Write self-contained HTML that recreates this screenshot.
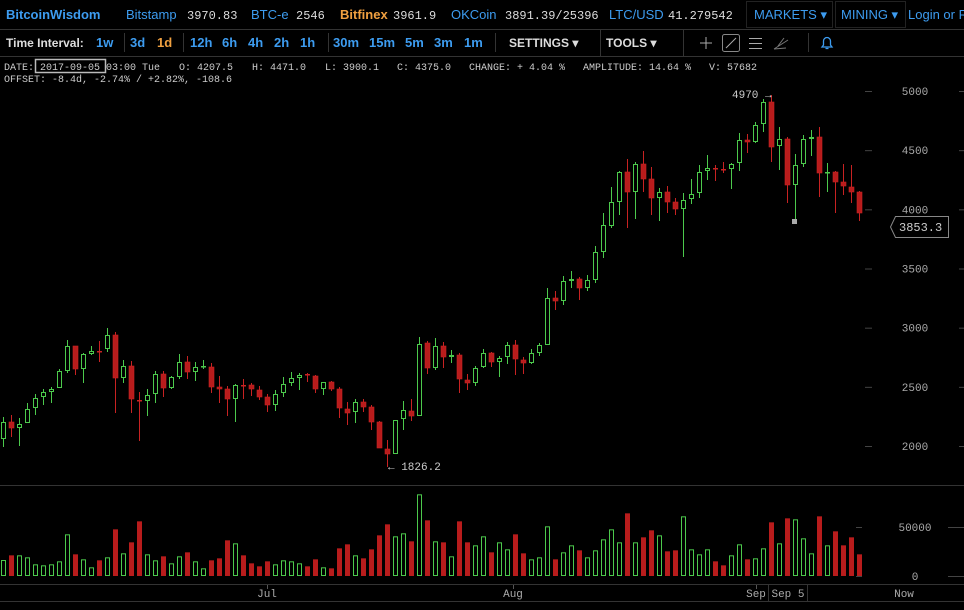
<!DOCTYPE html>
<html><head><meta charset="utf-8"><style>
body{margin:0;background:#000;width:964px;height:610px;overflow:hidden;font-family:"Liberation Sans",sans-serif}
svg{display:block}
.h{font-family:"Liberation Sans",sans-serif;font-size:13px;fill:#3d9cf0}
.m{font-family:"Liberation Mono",monospace;font-size:10px;fill:#ccc}
.v{font-family:"Liberation Mono",monospace;font-size:12px;fill:#ddd}
.b{font-weight:bold}
</style></head><body>
<svg id="s" width="964" height="610" xmlns="http://www.w3.org/2000/svg">
<rect width="964" height="610" fill="#000"/>
<line x1="0" y1="29.5" x2="964" y2="29.5" stroke="#333"/>
<line x1="0" y1="56.5" x2="964" y2="56.5" stroke="#333"/>
<text x="6" y="19" class="h b" font-size="15">BitcoinWisdom</text>
<text x="126" y="19" class="h">Bitstamp</text><text x="187" y="19" class="v">3970.83</text>
<text x="251" y="19" class="h">BTC-e</text><text x="296" y="19" class="v">2546</text>
<text x="340" y="19" class="h b" style="fill:#f0a040">Bitfinex</text><text x="393" y="19" class="v">3961.9</text>
<text x="451" y="19" class="h">OKCoin</text><text x="505" y="19" class="v">3891.39/25396</text>
<text x="609" y="19" class="h">LTC/USD</text><text x="668" y="19" class="v">41.279542</text>
<rect x="746.5" y="1.5" width="86" height="26" fill="none" stroke="#222"/>
<text x="754" y="19" class="h">MARKETS ▾</text>
<rect x="835.5" y="1.5" width="70" height="26" fill="none" stroke="#222"/>
<text x="841" y="19" class="h">MINING ▾</text>
<text x="908" y="19" class="h">Login or R</text>
<text x="6" y="47" class="h b" style="fill:#ddd;font-size:12px">Time Interval:</text>
<g class="h b" font-size="12">
<text x="96" y="47" class="h b">1w</text><text x="130" y="47" class="h b">3d</text><text x="157" y="47" class="h b" style="fill:#f0a040">1d</text>
<text x="190" y="47" class="h b">12h</text><text x="222" y="47" class="h b">6h</text><text x="248" y="47" class="h b">4h</text><text x="274" y="47" class="h b">2h</text><text x="300" y="47" class="h b">1h</text>
<text x="333" y="47" class="h b">30m</text><text x="369" y="47" class="h b">15m</text><text x="405" y="47" class="h b">5m</text><text x="434" y="47" class="h b">3m</text><text x="464" y="47" class="h b">1m</text>
<text x="509" y="47" class="h b" style="fill:#ddd;font-size:12px">SETTINGS ▾</text>
<text x="606" y="47" class="h b" style="fill:#ddd;font-size:12px">TOOLS ▾</text>
</g>
<g stroke="#333"><line x1="124.5" y1="33" x2="124.5" y2="52"/><line x1="183.5" y1="33" x2="183.5" y2="52"/><line x1="328.5" y1="33" x2="328.5" y2="52"/><line x1="495.5" y1="33" x2="495.5" y2="52"/><line x1="600.5" y1="30" x2="600.5" y2="56"/><line x1="683.5" y1="30" x2="683.5" y2="56"/><line x1="808.5" y1="33" x2="808.5" y2="52"/></g>
<g stroke="#aaa" fill="none"><line x1="700" y1="43" x2="712" y2="43"/><line x1="706" y1="37" x2="706" y2="49"/>
<rect x="722.5" y="34.5" width="17" height="17" rx="2" stroke="#888"/><line x1="726" y1="48" x2="736" y2="38"/>
<line x1="749" y1="38.5" x2="762" y2="38.5"/><line x1="749" y1="43.5" x2="762" y2="43.5"/><line x1="749" y1="48.5" x2="762" y2="48.5"/>
<path d="M774 49 L788 40 M774 49 L786 48 M778 46 L784 38" stroke="#777"/></g>
<path d="M822 47 h10 l-1.5-2 v-4 a3.5 3.5 0 0 0 -7 0 v4 z M825.5 48.5 h3" stroke="#3d9cf0" fill="none" stroke-width="1.3"/>
<text x="4" y="70" class="m">DATE:</text>
<rect x="35.5" y="59.5" width="70" height="13" fill="none" stroke="#bbb" stroke-width="1.5"/>
<text x="40" y="70" class="m">2017-09-05</text>
<text x="106" y="70" class="m">03:00 Tue</text>
<text x="179" y="70" class="m">O: 4207.5</text>
<text x="252" y="70" class="m">H: 4471.0</text>
<text x="325" y="70" class="m">L: 3900.1</text>
<text x="397" y="70" class="m">C: 4375.0</text>
<text x="469" y="70" class="m">CHANGE: + 4.04 %</text>
<text x="583" y="70" class="m">AMPLITUDE: 14.64 %</text>
<text x="709" y="70" class="m">V: 57682</text>
<text x="4" y="82" class="m">OFFSET: -8.4d, -2.74% / +2.82%, -108.6</text>
<line x1="0" y1="485.5" x2="964" y2="485.5" stroke="#333"/>
<line x1="0" y1="584.5" x2="964" y2="584.5" stroke="#333"/>
<line x1="0" y1="601.5" x2="964" y2="601.5" stroke="#333"/>
<line x1="768.5" y1="585" x2="768.5" y2="601" stroke="#333"/><line x1="807.5" y1="585" x2="807.5" y2="601" stroke="#333"/>
<g class="m" text-anchor="middle" style="fill:#aaa;font-size:11px">
<text x="267" y="597">Jul</text><text x="513" y="597">Aug</text><text x="756" y="597">Sep</text><text x="788" y="597">Sep 5</text><text x="904" y="597">Now</text>
<text x="915" y="531">50000</text><text x="915" y="580">0</text>
</g>
<line x1="267.5" y1="585" x2="267.5" y2="589" stroke="#555"/><line x1="513.5" y1="585" x2="513.5" y2="589" stroke="#555"/><line x1="756.5" y1="585" x2="756.5" y2="589" stroke="#555"/>
<g stroke="#444"><line x1="856" y1="527.5" x2="862" y2="527.5"/><line x1="948" y1="527.5" x2="964" y2="527.5"/><line x1="856" y1="576.5" x2="862" y2="576.5"/><line x1="948" y1="576.5" x2="964" y2="576.5"/></g>
<g id="ax"></g>
<g id="c"></g>
<text x="732" y="98" class="m" style="fill:#ccc;font-size:11px">4970 →</text>
<text x="388" y="470" class="m" style="fill:#ccc;font-size:11px">← 1826.2</text>
<rect x="792" y="219" width="5" height="5" fill="#aaa"/>
<path d="M895.5 216.5 H948.5 V237.5 H895.5 L890.5 227 Z" fill="#000" stroke="#888"/>
<text x="899" y="231" class="m" style="fill:#ccc;font-size:12px">3853.3</text>
</svg>
<script>
var C=[
[422,439,417,447,'g'],[422,428,415,437,'r'],[424,428,418,446,'g'],[409,423,403,423,'g'],[398,408,394,415,'g'],[392,397,389,405,'g'],[389,392,387,403,'g'],[371,388,369,388,'g'],[346,371,340,373,'g'],[346,369,346,375,'r'],
[354,369,353,383,'g'],[351,354,346,355,'g'],[351,352,341,362,'r'],[335,349,328,352,'g'],[335,378,332,413,'r'],[366,378,360,383,'g'],[366,399,361,413,'r'],[400,401,392,441,'r'],[395,401,389,416,'g'],[374,394,371,403,'g'],
[374,388,371,397,'r'],[377,388,376,389,'g'],[362,377,354,379,'g'],[362,372,356,379,'r'],[367,372,362,381,'g'],[366,367,360,369,'g'],[367,387,363,393,'r'],[387,389,376,403,'r'],[389,399,386,416,'r'],[385,399,384,422,'g'],
[385,386,379,399,'r'],[385,389,383,396,'r'],[390,397,386,400,'r'],[397,405,394,412,'r'],[394,405,390,411,'g'],[384,393,377,397,'g'],[378,383,372,386,'g'],[375,378,373,390,'g'],[374,375,373,382,'r'],[376,389,375,393,'r'],
[382,389,382,395,'g'],[382,389,381,391,'r'],[389,408,387,418,'r'],[409,413,402,425,'r'],[402,412,399,423,'g'],[402,407,399,412,'r'],[407,422,405,430,'r'],[422,448,421,448,'r'],[449,454,440,467,'r'],[420,454,420,454,'g'],
[410,419,401,430,'g'],[411,416,399,421,'r'],[344,416,337,416,'g'],[343,368,341,374,'r'],[346,368,338,370,'g'],[346,357,342,368,'r'],[355,357,350,363,'g'],[355,379,353,393,'r'],[380,383,374,390,'r'],[368,383,366,386,'g'],
[353,367,349,368,'g'],[353,362,352,367,'r'],[358,362,356,377,'g'],[345,357,342,364,'g'],[345,359,340,375,'r'],[360,363,357,374,'r'],[353,363,349,364,'g'],[345,353,343,356,'g'],[298,345,288,345,'g'],[298,301,291,310,'r'],
[281,301,276,305,'g'],[279,281,271,288,'g'],[279,288,277,300,'r'],[280,288,275,291,'g'],[252,280,246,283,'g'],[225,252,213,258,'g'],[202,226,187,228,'g'],[172,202,171,215,'g'],[172,192,159,228,'r'],[164,192,162,219,'g'],
[164,179,151,192,'r'],[179,198,167,215,'r'],[192,198,188,221,'g'],[192,202,186,213,'r'],[202,209,198,215,'r'],[200,209,193,257,'g'],[194,199,179,204,'g'],[172,193,165,198,'g'],[168,171,155,180,'g'],[168,169,165,181,'r'],
[169,170,162,173,'r'],[164,169,163,189,'g'],[140,163,133,171,'g'],[140,142,134,153,'r'],[125,142,122,143,'g'],[102,124,99,132,'g'],[102,147,95,162,'r'],[139,146,127,170,'g'],[139,185,137,203,'r'],[165,185,154,222,'g'],
[139,164,135,167,'g'],[137,139,130,156,'g'],[137,173,127,197,'r'],[172,173,163,192,'g'],[172,182,171,213,'r'],[182,186,164,195,'r'],[187,192,165,203,'r'],[192,213,191,221,'r']];
var V=[240,226,226,232,253,256,253,244,163,223,238,262,241,232,148,220,187,124,223,241,229,250,229,217,244,265,241,235,181,190,226,250,259,244,253,241,244,250,259,238,262,265,205,193,226,235,208,166,133,169,160,184,43,121,
184,187,229,124,187,196,169,217,187,208,163,220,238,232,139,238,217,196,211,232,211,178,148,187,100,187,172,151,166,214,211,109,208,223,208,244,256,226,193,238,235,205,127,190,115,118,175,220,109,196,154,196,172,223];
var s='',G='#4cc94c',R='#b81c1c',RS='#c82222';
for(var i=0;i<C.length;i++){var c=C[i],x=3.5+i*8,col=c[4]=='g'?G:RS;
s+='<line x1="'+x+'" y1="'+c[2]+'" x2="'+x+'" y2="'+c[3]+'" stroke="'+col+'"/>';
var h=c[1]-c[0];
if(h<2){s+='<rect x="'+(x-2.5)+'" y="'+c[0]+'" width="5" height="1.5" fill="'+col+'"/>';}
else if(c[4]=='g'){s+='<rect x="'+(x-2)+'" y="'+(c[0]+.5)+'" width="4" height="'+(h-1)+'" fill="#000" stroke="'+G+'"/>';}
else{s+='<rect x="'+(x-2.5)+'" y="'+c[0]+'" width="5" height="'+h+'" fill="'+R+'" stroke="'+RS+'" stroke-width=".6"/>';}
var vt=480+V[i]/3,vh=576-vt;
if(c[4]=='g')s+='<rect x="'+(x-2)+'" y="'+(vt+.5)+'" width="4" height="'+(vh-1)+'" fill="#000" stroke="'+G+'"/>';
else s+='<rect x="'+(x-2.5)+'" y="'+vt+'" width="5" height="'+vh+'" fill="'+R+'"/>';}
document.getElementById('c').innerHTML=s;
var a='';for(var p=5000;p>=2000;p-=500){var y=91+(5000-p)*355/3000;
a+='<line x1="865" y1="'+(y+.5)+'" x2="872" y2="'+(y+.5)+'" stroke="#444"/><line x1="959" y1="'+(y+.5)+'" x2="964" y2="'+(y+.5)+'" stroke="#444"/>';
a+='<text x="915" y="'+(y+4)+'" text-anchor="middle" font-family="Liberation Mono,monospace" font-size="11" fill="#aaa">'+p+'</text>';}
document.getElementById('ax').innerHTML=a;
</script>
</body></html>
